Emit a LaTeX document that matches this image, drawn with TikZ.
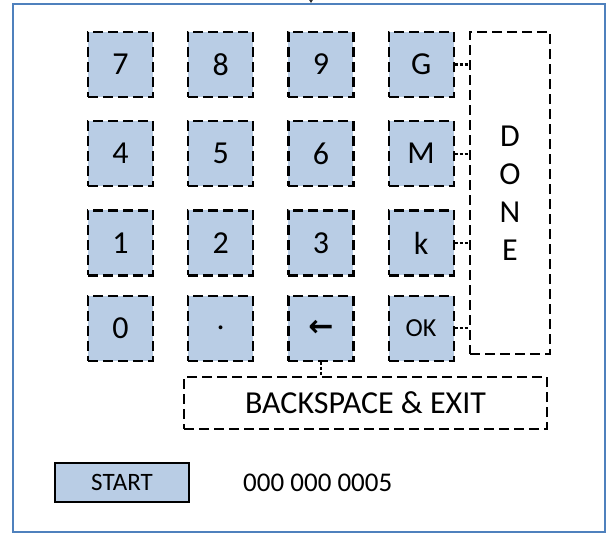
\documentclass[tikz,border=0pt]{standalone}
\usepackage{fontspec}
\setmainfont{Carlito}
\newfontfamily\symfont{DejaVu Sans}
\usepackage{xcolor}
\usetikzlibrary{positioning,arrows.meta}

\definecolor{keyblue}{RGB}{185,205,229}
\definecolor{frameblue}{RGB}{79,129,189}

\begin{document}
\begin{tikzpicture}[x=1pt, y=1pt, node distance=33pt]
                \tikzstyle{key} = [rectangle, minimum width=65pt, minimum height=65pt, inner sep=0pt, draw=black, fill=keyblue, line width=2.2pt, dash pattern=on 10pt off 5pt, font=\fontsize{32}{38}\selectfont]
                \tikzstyle{panel} = [rectangle, inner sep=0pt, draw=black, line width=2.2pt, dash pattern=on 10pt off 5pt, font=\fontsize{32}{38}\selectfont]
                \tikzstyle{link} = [line width=2.2pt, dash pattern=on 3pt off 2pt]
                \useasboundingbox (0,0) rectangle (607,-533);
                \node (frame) [rectangle, draw=frameblue, line width=2pt, minimum width=592pt, minimum height=528pt, inner sep=0pt] at (309.3,-268) {};
                \coordinate (feed) at (311,10);
                \draw [black!80, line width=1pt, -{Triangle[width=6pt,length=5pt]}] (feed) -- (feed |- frame.north);
                
                \node (k7) [key] at (120.5,-64.5) {7};
                \node (k8) [key, right=of k7] {8};
                \node (k9) [key, right=of k8] {9};
                \node (kG) [key, right=of k9] {G};
                \node (k4) [key, below=22pt of k7] {4};
                \node (k5) [key, right=of k4] {5};
                \node (k6) [key, right=of k5] {6};
                \node (kM) [key, right=of k6] {M};
                \node (k1) [key, below=22pt of k4] {1};
                \node (k2) [key, right=of k1] {2};
                \node (k3) [key, right=of k2] {3};
                \node (kk) [key, right=of k3] {k};
                \node (k0) [key, below=18pt of k1] {0};
                \node (kdot) [key, right=of k0] {.};
                \node (kback) [key, right=of kdot] {\symfont\bfseries\fontsize{30}{32}\selectfont ←};
                \node (kok) [key, right=of kback, font=\fontsize{26}{30}\selectfont] {OK};
                
                \node (done) [panel, minimum width=80pt, minimum height=322pt, align=center] at (510,-193) {D\\O\\N\\E};
                \node (bksp) [panel, minimum width=363pt, minimum height=52pt] at (365.5,-403) {BACKSPACE \& EXIT};
                
                \node (start) [rectangle, draw=black, fill=keyblue, line width=1.5pt, minimum width=134pt, minimum height=39pt, inner sep=0pt, font=\fontsize{25}{29}\selectfont] at (122,-482.5) {START};
                \node (count) [anchor=west, inner sep=0pt, font=\fontsize{27}{32}\selectfont] at (243,-483) {000 000 0005};
                
                \draw [link] (kG.east) -- (kG.east -| done.west);
                \draw [link] (kM.east) -- (kM.east -| done.west);
                \draw [link] (kk.east) -- (kk.east -| done.west);
                \draw [link] (kok.east) -- (kok.east -| done.west);
                \draw [link] (kback.south) -- (kback.south |- bksp.north);
            \end{tikzpicture}
\end{document}
